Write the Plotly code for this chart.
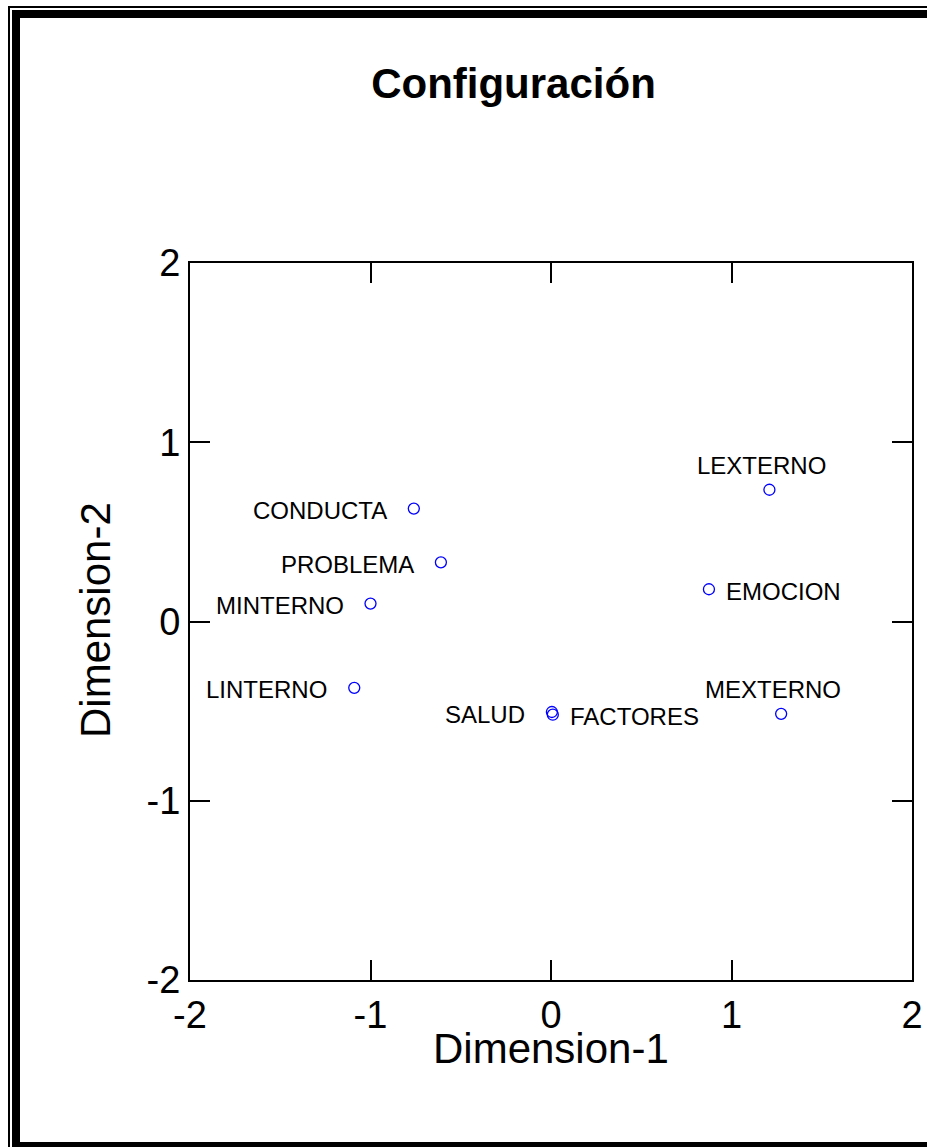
import plotly.graph_objects as go

labels = ["CONDUCTA", "PROBLEMA", "MINTERNO", "LINTERNO", "SALUD", "FACTORES", "EMOCION", "LEXTERNO", "MEXTERNO"]
dim1 = [-0.76, -0.61, -1.00, -1.09, 0.005, 0.01, 0.875, 1.21, 1.275]
dim2 = [0.63, 0.33, 0.10, -0.37, -0.505, -0.52, 0.18, 0.735, -0.515]
label_side = ["left", "left", "left", "left", "left", "right", "right", "top", "top"]
tick_vals = [-2, -1, 0, 1, 2]

W, H = 927, 1147
L, R, T, B = 190, 912, 263, 980
FONT = "Arial, Liberation Sans, sans-serif"
LABEL_FONT = dict(family=FONT, size=24, color="black")

fig = go.Figure()
fig.add_trace(go.Scatter(
    x=dim1, y=dim2, mode="markers",
    marker=dict(symbol="circle-open", size=11, color="#0000ff", line=dict(width=1.3, color="#0000ff")),
    hoverinfo="text", text=labels, showlegend=False,
))

for lab, xv, yv, side in zip(labels, dim1, dim2, label_side):
    if side == "left":
        fig.add_annotation(x=xv, y=yv, text=lab, showarrow=False, xanchor="right", yanchor="middle",
                           xshift=-25, yshift=-2, font=LABEL_FONT)
    elif side == "right":
        fig.add_annotation(x=xv, y=yv, text=lab, showarrow=False, xanchor="left", yanchor="middle",
                           xshift=15, yshift=-2, font=LABEL_FONT)
    else:
        fig.add_annotation(x=xv, y=yv, text=lab, showarrow=False, xanchor="center", yanchor="bottom",
                           xshift=-8, yshift=9, font=LABEL_FONT)

def px_x(p):
    return (p - L) / (R - L)

def px_y(p):
    return (B - p) / (B - T)

# double frame around the figure
fig.add_shape(type="rect", xref="paper", yref="paper",
              x0=px_x(9), x1=px_x(945), y0=px_y(1160), y1=px_y(7),
              line=dict(color="black", width=2), fillcolor="rgba(0,0,0,0)")
fig.add_shape(type="rect", xref="paper", yref="paper",
              x0=px_x(16), x1=px_x(935), y0=px_y(1146), y1=px_y(14),
              line=dict(color="black", width=8), fillcolor="rgba(0,0,0,0)")

# axis titles
fig.add_annotation(xref="paper", yref="paper", x=px_x(551), y=px_y(1048), text="Dimension-1",
                   showarrow=False, xanchor="center", yanchor="middle",
                   font=dict(family=FONT, size=42, color="black"))
fig.add_annotation(xref="paper", yref="paper", x=px_x(95), y=px_y(620), text="Dimension-2",
                   showarrow=False, xanchor="center", yanchor="middle", textangle=-90,
                   font=dict(family=FONT, size=42, color="black"))

axis_common = dict(
    range=[-2, 2], tickvals=tick_vals, ticktext=[str(v) for v in tick_vals],
    ticks="inside", ticklen=20, tickwidth=2, tickcolor="black",
    showline=True, linecolor="black", linewidth=2, mirror="ticks",
    showgrid=False, zeroline=False, automargin=False,
    tickfont=dict(family=FONT, size=38, color="black"),
)

fig.update_layout(
    template="none",
    width=W, height=H,
    margin=dict(l=L, r=W - R, t=T, b=H - B, autoexpand=False),
    paper_bgcolor="white", plot_bgcolor="white",
    font=dict(family=FONT, size=22, color="black"),
    title=dict(text="<b>Configuración</b>", x=513.5 / W, xref="container", xanchor="center",
               y=1 - 83 / H, yref="container", yanchor="middle",
               font=dict(family=FONT, size=42, color="black")),
    xaxis=dict(**axis_common),
    yaxis=dict(**axis_common),
    showlegend=False,
)

fig.write_html("out.html", config={"displayModeBar": False},
               post_script="document.body.style.margin='0';document.body.style.overflow='hidden';")
